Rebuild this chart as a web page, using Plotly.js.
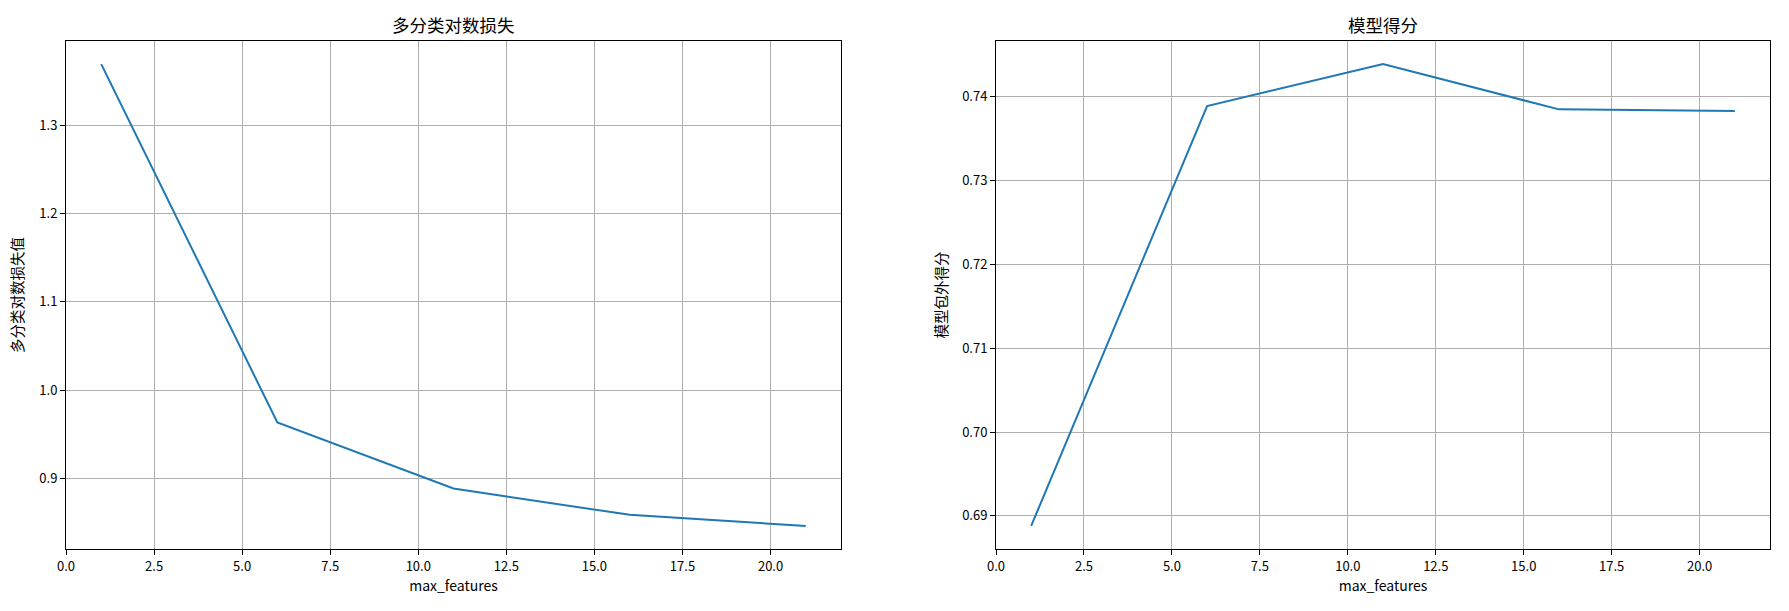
<!DOCTYPE html>
<html>
<head>
<meta charset="utf-8">
<script src="https://cdn.plot.ly/plotly-3.0.1.min.js"></script>
<style>
  html, body { margin: 0; padding: 0; background: #ffffff; }
  #chart { width: 1789px; height: 611px; }
</style>
</head>
<body>
<div id="chart"></div>
<script>
// ---- data ----
const maxFeatures = [1, 6, 11, 16, 21];
const logLoss = [1.369, 0.9635, 0.8888, 0.8590, 0.8465];
const oobScore = [0.6888, 0.7389, 0.7439, 0.7385, 0.7383];

const leftTitle = "多分类对数损失";
const rightTitle = "模型得分";
const leftYLabel = "多分类对数损失值";
const rightYLabel = "模型包外得分";
const xLabel = "max_features";

// ---- style ----
const FONT = '"Noto Sans CJK SC", "DejaVu Sans", sans-serif';
const lineColor = '#1f77b4';
const gridColor = '#b0b0b0';

function xAxis(domain, anchor) {
  return {
    domain: domain, anchor: anchor,
    range: [0, 22], tick0: 0, dtick: 2.5, tickformat: '.1f',
    showgrid: true, gridcolor: gridColor, gridwidth: 1,
    zeroline: false,
    showline: true, linecolor: '#000', linewidth: 1, mirror: true,
    ticks: 'outside', ticklen: 5, tickwidth: 1, tickcolor: '#000',
    tickfont: {family: FONT, size: 13, color: '#000'},
    title: {text: xLabel, font: {family: FONT, size: 14, color: '#000'}, standoff: 6},
    automargin: false
  };
}
function yAxis(domain, anchor, range, dtick, fmt, label, standoff) {
  return {
    domain: domain, anchor: anchor,
    range: range, dtick: dtick, tickformat: fmt,
    showgrid: true, gridcolor: gridColor, gridwidth: 1,
    zeroline: false,
    showline: true, linecolor: '#000', linewidth: 1, mirror: true,
    ticks: 'outside', ticklen: 5, tickwidth: 1, tickcolor: '#000',
    tickfont: {family: FONT, size: 13, color: '#000'},
    title: {text: label, font: {family: FONT, size: 14.5, color: '#000'}, standoff: standoff},
    automargin: false
  };
}

function padRange(vals) {
  const mn = Math.min(...vals), mx = Math.max(...vals);
  const p = (mx - mn) * 0.05;
  return [mn - p, mx + p];
}

const W = 1789, H = 611;
const yDom = [(H - 549) / H, (H - 41) / H];
const xDomL = [66 / W, 841 / W];
const xDomR = [996 / W, 1770 / W];

const traces = [
  {x: maxFeatures, y: logLoss, type: 'scatter', mode: 'lines', xaxis: 'x', yaxis: 'y',
   line: {color: lineColor, width: 2}, showlegend: false},
  {x: maxFeatures, y: oobScore, type: 'scatter', mode: 'lines', xaxis: 'x2', yaxis: 'y2',
   line: {color: lineColor, width: 2}, showlegend: false}
];

const layout = {
  width: W, height: H,
  margin: {l: 0, r: 0, t: 0, b: 0},
  paper_bgcolor: '#ffffff', plot_bgcolor: '#ffffff',
  font: {family: FONT, color: '#000'},
  xaxis: xAxis(xDomL, 'y'),
  yaxis: yAxis(yDom, 'x', padRange(logLoss), 0.1, '.1f', leftYLabel, 12),
  xaxis2: xAxis(xDomR, 'y2'),
  yaxis2: yAxis(yDom, 'x2', padRange(oobScore), 0.01, '.2f', rightYLabel, 11),
  annotations: [
    {text: leftTitle, xref: 'paper', yref: 'paper', x: (xDomL[0] + xDomL[1]) / 2, y: (H - 25) / H,
     xanchor: 'center', yanchor: 'middle', showarrow: false, font: {family: FONT, size: 17.5, color: '#000'}},
    {text: rightTitle, xref: 'paper', yref: 'paper', x: (xDomR[0] + xDomR[1]) / 2, y: (H - 25) / H,
     xanchor: 'center', yanchor: 'middle', showarrow: false, font: {family: FONT, size: 17.5, color: '#000'}}
  ]
};

Plotly.newPlot('chart', traces, layout, {displayModeBar: false, staticPlot: true});
</script>
</body>
</html>
